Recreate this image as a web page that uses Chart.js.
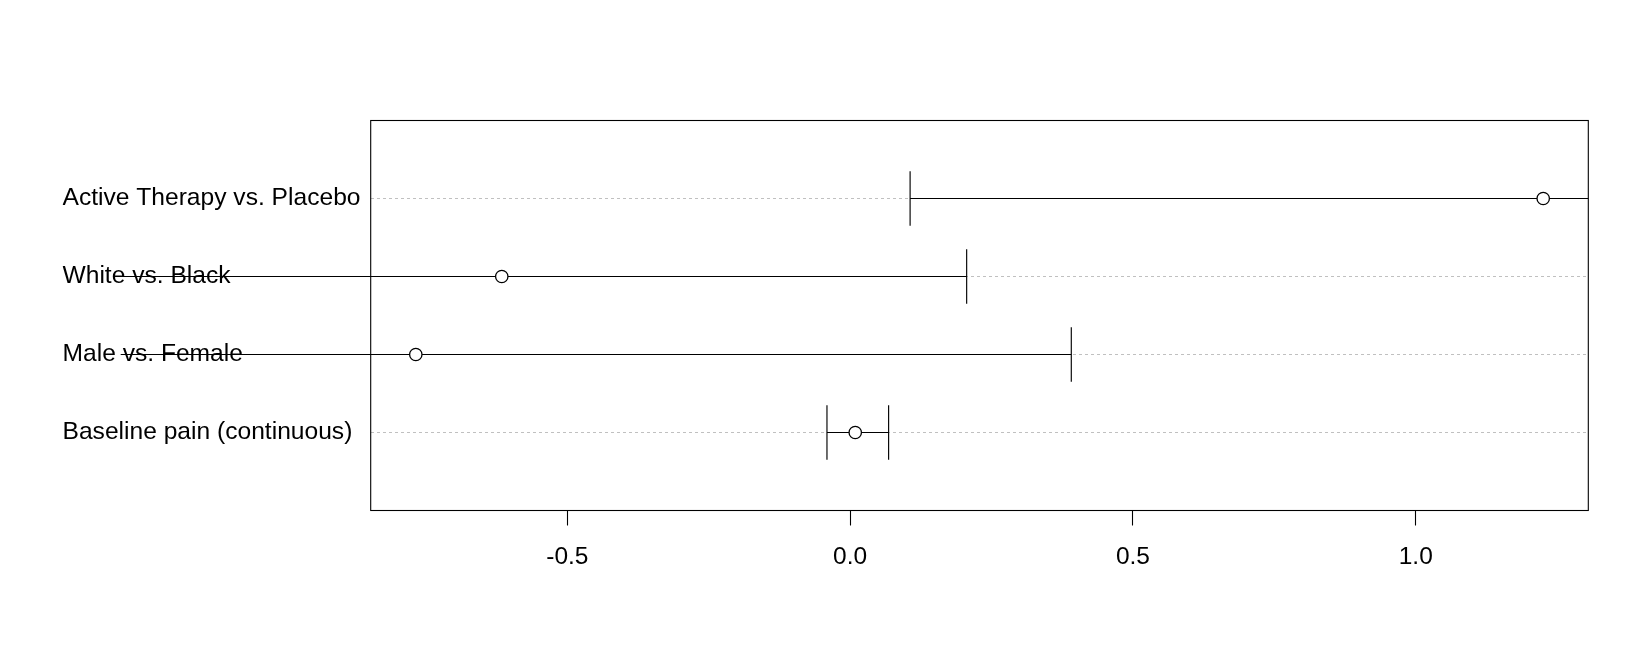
<!DOCTYPE html>
<html>
<head>
<meta charset="utf-8">
<script src="https://cdn.jsdelivr.net/npm/chart.js@4"></script>
<style>
  html, body { margin: 0; padding: 0; background: #ffffff; }
  #wrap { width: 1650px; height: 660px; position: relative; }
</style>
</head>
<body>
<div id="wrap"><canvas id="c" width="1650" height="660"></canvas></div>
<script>
// ---- data ----
const categories = ["Baseline pain (continuous)", "Male vs. Female", "White vs. Black", "Active Therapy vs. Placebo"];
const positions  = [1, 2, 3, 4];
const estimates  = [0.009, -0.768, -0.616, 1.2254];
const lowerCI    = [-0.041, -1.927, -1.438, 0.106];
const upperCI    = [0.068, 0.391, 0.206, 2.345];
const xTicks     = [-0.5, 0.0, 0.5, 1.0];

// R-style axis range: range of estimates extended by 4% each side
const eMin = Math.min(...estimates), eMax = Math.max(...estimates);
const ext = (eMax - eMin) * 0.04;
const xMin = eMin - ext, xMax = eMax + ext;

const FONT = "'Liberation Sans', Arial, Helvetica, sans-serif";
const CAP = 0.35; // cap half-height in row units

const lineStyle = {showLine: true, pointRadius: 0, borderColor: '#000000', borderWidth: 1.15, order: 1,
                   clip: {left: 250, right: 0, top: 10, bottom: 10}};
const datasets = [];
positions.forEach((p, i) => {
  datasets.push(Object.assign({data: [{x: lowerCI[i], y: p}, {x: upperCI[i], y: p}]}, lineStyle));
  datasets.push(Object.assign({data: [{x: lowerCI[i], y: p - CAP}, {x: lowerCI[i], y: p + CAP}]}, lineStyle));
  datasets.push(Object.assign({data: [{x: upperCI[i], y: p - CAP}, {x: upperCI[i], y: p + CAP}]}, lineStyle));
});
datasets.push({
  data: positions.map((p, i) => ({x: estimates[i], y: p})),
  showLine: false, pointRadius: 6.2, pointBorderWidth: 1.3,
  pointBorderColor: '#000000', pointBackgroundColor: '#ffffff', order: 0, clip: false
});

const boxPlugin = {
  id: 'box',
  afterDraw(chart) {
    const a = chart.chartArea, ctx = chart.ctx;
    ctx.save();
    ctx.strokeStyle = '#000000';
    ctx.lineWidth = 1.1;
    ctx.strokeRect(a.left, a.top, a.right - a.left, a.bottom - a.top);
    ctx.restore();
  }
};

new Chart(document.getElementById('c'), {
  type: 'scatter',
  data: {datasets},
  plugins: [boxPlugin],
  options: {
    responsive: false,
    animation: false,
    devicePixelRatio: 1,
    layout: {padding: {left: 62.5, right: 61.7, top: 120.5, bottom: 0}},
    plugins: {legend: {display: false}, tooltip: {enabled: false}},
    scales: {
      x: {
        type: 'linear', min: xMin, max: xMax,
        afterBuildTicks: s => { s.ticks = xTicks.map(v => ({value: v})); },
        afterFit: s => { s.height = 149.5; },
        grid: {drawOnChartArea: false, drawTicks: true, tickLength: 15, tickColor: '#000000', tickWidth: 1.1},
        border: {display: false},
        ticks: {color: '#000000', font: {family: FONT, size: 24.5}, padding: 17, maxRotation: 0,
                callback: v => Number(v).toFixed(1)}
      },
      y: {
        type: 'linear', min: 0, max: 5,
        afterBuildTicks: s => { s.ticks = positions.map(v => ({value: v})); },
        afterFit: s => { s.width = 308.2; },
        grid: {drawOnChartArea: true, drawTicks: false, color: '#c0c0c0', lineWidth: 1},
        border: {display: false, dash: [3, 3]},
        ticks: {color: '#000000', font: {family: FONT, size: 24.6}, crossAlign: 'far', padding: 0,
                callback: v => categories[positions.indexOf(v)]}
      }
    }
  }
});
</script>
</body>
</html>
